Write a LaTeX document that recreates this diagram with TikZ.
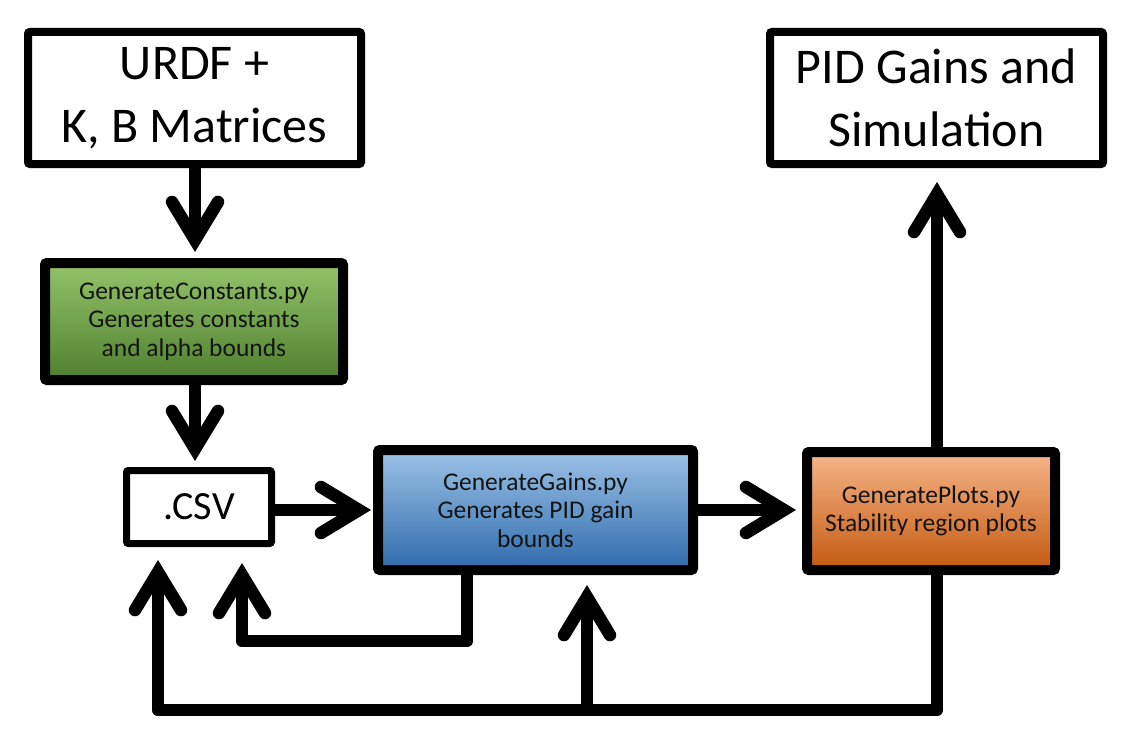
\documentclass[tikz,border=0pt]{standalone}
\usepackage{fontspec}
\setmainfont{Carlito}
\usetikzlibrary{arrows.meta,calc}
\definecolor{gtop}{HTML}{93C46A}
\definecolor{gbot}{HTML}{4F7F2E}
\definecolor{btop}{HTML}{9DC3E8}
\definecolor{bbot}{HTML}{2E6AAA}
\definecolor{otop}{HTML}{F6B68A}
\definecolor{obot}{HTML}{C4590F}
\begin{document}
\begin{tikzpicture}[x=1pt,y=-1pt,
  box/.style={draw=black, rounded corners=2pt, align=center, inner sep=0pt},
  bigbox/.style={box, line width=8pt, minimum width=333pt, minimum height=132pt, font=\fontsize{50}{63}\selectfont, fill=white},
  pybox/.style={box, line width=10pt, font=\fontsize{25.5}{28.5}\selectfont, text=black!92},
  arr/.style={line width=12.5pt, line join=round, -{Straight Barb[length=38pt,width=46pt,line cap=round,line join=miter]}}
]
\useasboundingbox (0,0) rectangle (1132,749);
\fill[white] (0,0) rectangle (1132,749);

\node[bigbox] (urdf) at (194.5,98) {URDF +\\K, B Matrices};
\node[bigbox] (pid) at (936.5,98) {PID Gains and\\Simulation};
\node[pybox, minimum width=298pt, minimum height=117pt, top color=gtop, bottom color=gbot] (gc) at (194,321.5) {GenerateConstants.py\\Generates constants\\and alpha bounds};
\node[box, line width=7pt, minimum width=145pt, minimum height=73pt, font=\fontsize{40}{46}\selectfont, fill=white] (csv) at (199,507) {.CSV};
\node[pybox, minimum width=315pt, minimum height=120pt, top color=btop, bottom color=bbot] (gg) at (535.5,510) {GenerateGains.py\\Generates PID gain\\bounds};
\node[pybox, minimum width=248pt, minimum height=118pt, top color=otop, bottom color=obot] (gp) at (931,511) {GeneratePlots.py\\Stability region plots};

\coordinate (f1) at (467,641);
\coordinate (f2) at (937,710);
\coordinate (f3) at (158,710);
\coordinate (br) at (587,710);

\draw[arr, shorten >=6pt] (urdf.south -| 195,0) -- (gc.north -| 195,0);
\draw[arr, shorten >=6pt] (gc.south -| 195,0) -- (csv.north -| 195,0);
\draw[arr, shorten >=2pt] (csv.east |- 0,510) -- (gg.west |- 0,510);
\draw[arr, shorten >=6pt] (gg.east |- 0,510) -- (gp.west |- 0,510);
\draw[arr, shorten >=14pt] (gp.north -| 937,0) -- (pid.south -| 937,0);
\draw[arr, shorten >=16pt] (gg.south -| f1) -- (f1) -| (csv.south -| 242,0);
\draw[arr, shorten >=13pt] (gp.south -| f2) -- (f2) -- (f3) -- (csv.south -| f3);
\draw[arr, shorten >=10pt] (br) -- (gg.south -| br);
\end{tikzpicture}
\end{document}
